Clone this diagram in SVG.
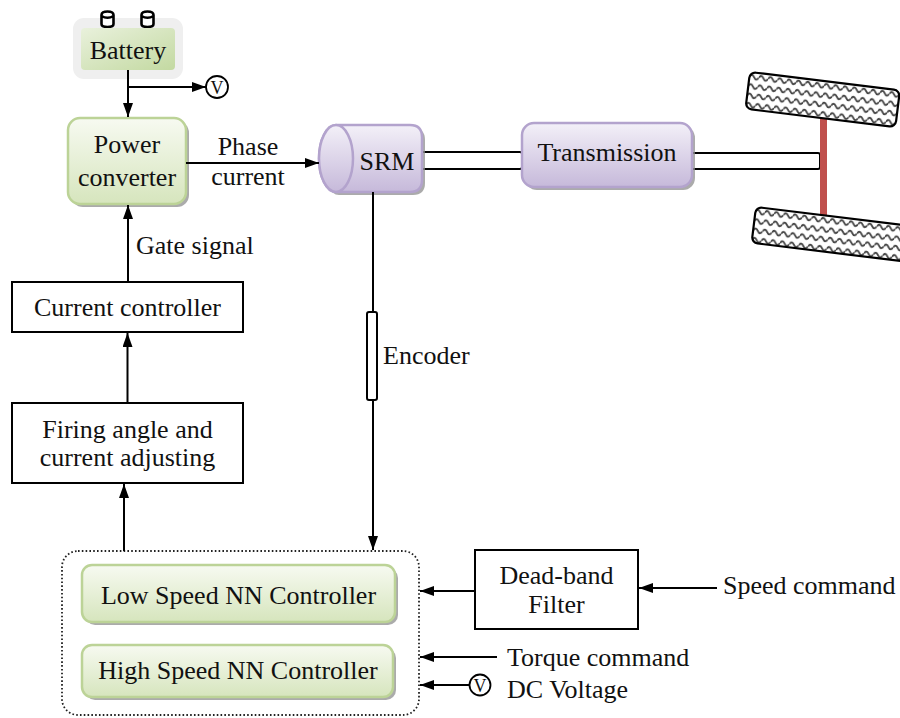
<svg xmlns="http://www.w3.org/2000/svg" width="900" height="718" viewBox="0 0 900 718">
  <defs>
    <linearGradient id="gGreen" x1="0" y1="0" x2="0" y2="1">
      <stop offset="0" stop-color="#f7faf1"/>
      <stop offset="1" stop-color="#d6e5bd"/>
    </linearGradient>
    <linearGradient id="gBatt" x1="0" y1="0" x2="1" y2="1">
      <stop offset="0" stop-color="#e9f1dc"/>
      <stop offset="1" stop-color="#c3d9a1"/>
    </linearGradient>
    <linearGradient id="gPurple" x1="0" y1="0" x2="0" y2="1">
      <stop offset="0" stop-color="#f3f0f8"/>
      <stop offset="1" stop-color="#c6b9da"/>
    </linearGradient>
    <pattern id="waves" patternUnits="userSpaceOnUse" width="9.4" height="9.4">
      <path d="M0,4.7 Q2.35,0.5 4.7,4.7 T9.4,4.7" fill="none" stroke="#444" stroke-width="1.8"/>
    </pattern>
    <marker id="arrow" viewBox="0 0 14 10" refX="14" refY="5" markerWidth="14" markerHeight="10" markerUnits="userSpaceOnUse" orient="auto">
      <path d="M0,0 L14,5 L0,10 Z" fill="#000"/>
    </marker>
  </defs>
  <style>
    text { font-family: "Liberation Serif", "Times New Roman", serif; font-size: 26px; fill: #111; }
    .mid { text-anchor: middle; }
    .box { fill: #fff; stroke: #000; stroke-width: 2; }
    .green { fill: url(#gGreen); stroke: #bcd397; stroke-width: 2.5; }
    .purple { fill: url(#gPurple); stroke: #b3a3cd; stroke-width: 2.5; }
    .shadow { fill: #8f8f8f; opacity: 0.75; }
    .wire { fill: none; stroke: #000; stroke-width: 2; }
    .shaft { fill: #fff; stroke: #000; stroke-width: 2; }
    .meter { fill: #fff; stroke: #000; stroke-width: 1.8; }
    .meter-t { font-size: 18px; }
    .terminal { fill: #fff; stroke: #000; stroke-width: 2.6; }
  </style>

  <rect width="900" height="718" fill="#fff"/>

  <!-- shafts and axle -->
  <g id="drivetrain">
    <rect class="shaft" x="420" y="152" width="102" height="17" rx="2"/>
    <rect class="shaft" x="690" y="153" width="130" height="16" rx="2"/>
    <rect x="820" y="112" width="7" height="106" fill="#c0504d"/>
  </g>

  <!-- wheels -->
  <g id="wheel-top" transform="translate(750,72) rotate(7)">
    <rect x="0" y="0" width="151" height="37" rx="6" fill="#fff"/>
    <rect x="0" y="0" width="151" height="37" rx="6" fill="url(#waves)" stroke="#000" stroke-width="2.2"/>
  </g>
  <g id="wheel-bottom" transform="translate(756,207) rotate(7)">
    <rect x="0" y="0" width="160" height="36" rx="6" fill="#fff"/>
    <rect x="0" y="0" width="160" height="36" rx="6" fill="url(#waves)" stroke="#000" stroke-width="2.2"/>
  </g>

  <!-- battery -->
  <g id="battery">
    <rect x="73" y="18" width="110" height="61" rx="11" fill="#efefef"/>
    <path class="terminal" d="M101.5,15 Q101.5,11.5 107.5,11.5 Q113.5,11.5 113.5,15 V24 Q113.5,27 107.5,27 Q101.5,27 101.5,24 Z M101.5,16 Q107.5,19.5 113.5,16"/>
    <path class="terminal" d="M141.5,15 Q141.5,11.5 147.5,11.5 Q153.5,11.5 153.5,15 V24 Q153.5,27 147.5,27 Q141.5,27 141.5,24 Z M141.5,16 Q147.5,19.5 153.5,16"/>
    <rect x="81" y="28" width="94" height="42" rx="4" fill="url(#gBatt)"/>
    <text class="mid" x="128" y="59">Battery</text>
  </g>

  <!-- voltage meter on battery -->
  <g id="meter-battery">
    <circle class="meter" cx="217" cy="87" r="11"/>
    <text class="mid meter-t" x="217" y="93.5">V</text>
  </g>

  <!-- power converter -->
  <g id="power-converter">
    <rect class="shadow" x="71" y="121" width="118" height="86" rx="12"/>
    <rect class="green" x="68" y="118" width="118" height="86" rx="12"/>
    <text class="mid" x="127" y="153">Power</text>
    <text class="mid" x="127" y="186">converter</text>
  </g>

  <!-- SRM -->
  <g id="srm">
    <path class="shadow" d="M339,128 H413 Q425,128 425,140 V183 Q425,195 413,195 H339 A17,33.5 0 0 1 339,128 Z"/>
    <path class="purple" d="M336,125 H410 Q422,125 422,137 V180 Q422,192 410,192 H336 A17,33.5 0 0 1 336,125 Z"/>
    <ellipse class="purple" cx="336" cy="158.5" rx="17" ry="33.5"/>
    <text class="mid" x="387" y="170">SRM</text>
  </g>

  <!-- transmission -->
  <g id="transmission">
    <rect class="shadow" x="525" y="126" width="170" height="64" rx="12"/>
    <rect class="purple" x="522" y="123" width="170" height="64" rx="12"/>
    <text class="mid" x="607" y="161">Transmission</text>
  </g>

  <!-- current controller -->
  <g id="current-controller">
    <rect class="box" x="12" y="282" width="231" height="50"/>
    <text class="mid" x="127.5" y="316">Current controller</text>
  </g>

  <!-- firing angle and current adjusting -->
  <g id="firing-angle">
    <rect class="box" x="12" y="403" width="231" height="80"/>
    <text class="mid" x="127.5" y="438">Firing angle and</text>
    <text class="mid" x="127.5" y="466">current adjusting</text>
  </g>

  <!-- encoder -->
  <g id="encoder">
    <rect class="shaft" x="367" y="312" width="10" height="88" rx="2"/>
    <text x="383" y="364">Encoder</text>
  </g>

  <!-- NN controller group -->
  <g id="nn-controllers">
    <rect x="62" y="551" width="357" height="164" rx="16" fill="none" stroke="#222" stroke-width="1.8" stroke-dasharray="1.6 2.2"/>
    <g id="low-speed-nn">
      <rect class="shadow" x="85" y="568" width="313" height="57" rx="10"/>
      <rect class="green" x="82" y="565" width="313" height="57" rx="10"/>
      <text class="mid" x="238.5" y="604">Low Speed NN Controller</text>
    </g>
    <g id="high-speed-nn">
      <rect class="shadow" x="85" y="648" width="311" height="52" rx="10"/>
      <rect class="green" x="82" y="645" width="311" height="52" rx="10"/>
      <text class="mid" x="238" y="679">High Speed NN Controller</text>
    </g>
  </g>

  <!-- dead-band filter -->
  <g id="dead-band-filter">
    <rect class="box" x="475" y="550" width="163" height="79"/>
    <text class="mid" x="556.5" y="584">Dead-band</text>
    <text class="mid" x="556.5" y="613">Filter</text>
  </g>

  <!-- DC voltage meter -->
  <g id="meter-dc">
    <circle class="meter" cx="480" cy="685" r="10.5"/>
    <text class="mid meter-t" x="480" y="691.5">V</text>
  </g>

  <!-- input labels -->
  <g id="labels">
    <text class="mid" x="248" y="155">Phase</text>
    <text class="mid" x="248" y="185">current</text>
    <text x="136" y="254">Gate signal</text>
    <text x="723" y="594">Speed command</text>
    <text x="507" y="666">Torque command</text>
    <text x="507" y="698">DC Voltage</text>
  </g>

  <!-- connectors -->
  <g id="connectors">
    <line class="wire" x1="128" y1="70" x2="128" y2="117" marker-end="url(#arrow)"/>
    <line class="wire" x1="128" y1="87" x2="206" y2="87" marker-end="url(#arrow)"/>
    <line class="wire" x1="186" y1="163" x2="319" y2="163" marker-end="url(#arrow)"/>
    <line class="wire" x1="128" y1="282" x2="128" y2="205" marker-end="url(#arrow)"/>
    <line class="wire" x1="127.5" y1="403" x2="127.5" y2="333" marker-end="url(#arrow)"/>
    <line class="wire" x1="124" y1="551" x2="124" y2="484" marker-end="url(#arrow)"/>
    <line class="wire" x1="373" y1="192" x2="373" y2="312"/>
    <line class="wire" x1="373" y1="400" x2="373" y2="550" marker-end="url(#arrow)"/>
    <line class="wire" x1="475" y1="591" x2="420" y2="591" marker-end="url(#arrow)"/>
    <line class="wire" x1="717" y1="588" x2="639" y2="588" marker-end="url(#arrow)"/>
    <line class="wire" x1="497" y1="657" x2="420" y2="657" marker-end="url(#arrow)"/>
    <line class="wire" x1="469" y1="685" x2="420" y2="685" marker-end="url(#arrow)"/>
  </g>
</svg>
